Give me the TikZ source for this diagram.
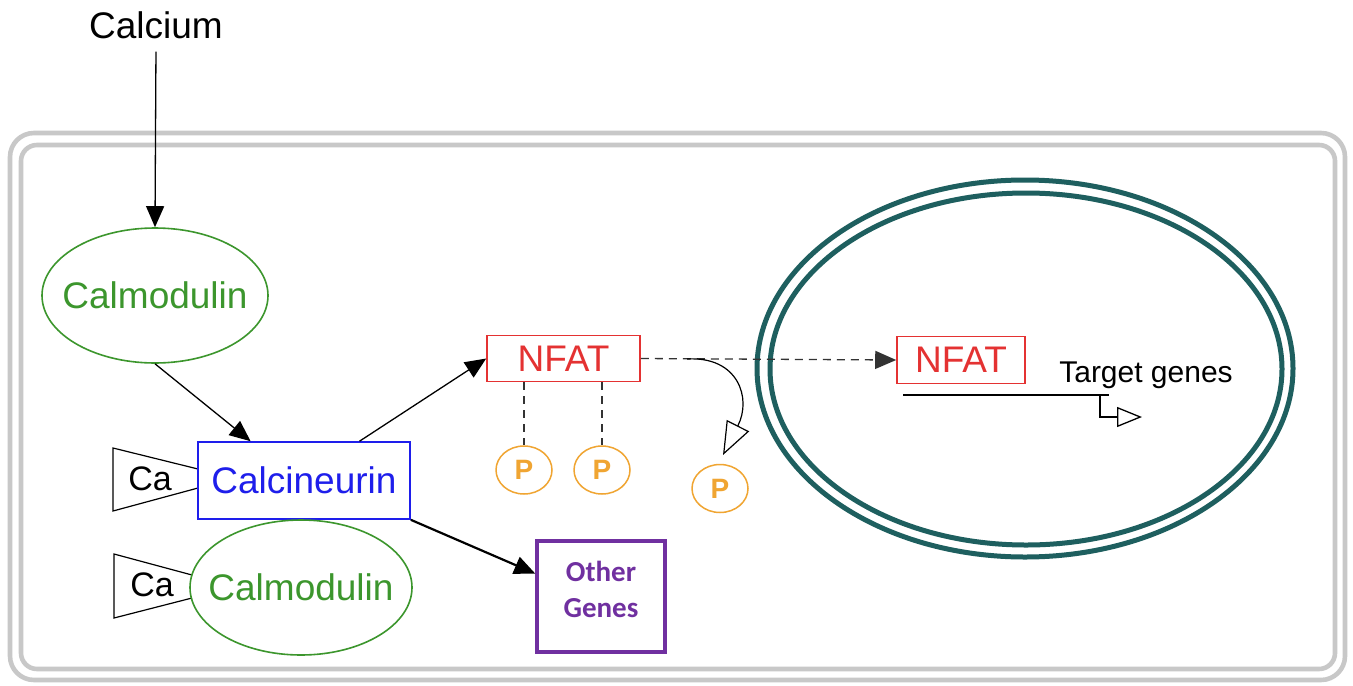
\documentclass[tikz,border=0pt]{standalone}
\usepackage{fontspec}
\setmainfont{Liberation Sans}
\newfontfamily\calibri{Carlito}
\usetikzlibrary{arrows.meta,shapes.geometric,calc}

\definecolor{camgreen}{RGB}{60,150,45}
\definecolor{cnblue}{RGB}{30,30,235}
\definecolor{nfred}{RGB}{228,50,50}
\definecolor{porange}{RGB}{240,165,50}
\definecolor{nucteal}{RGB}{30,95,95}
\definecolor{ogpurple}{RGB}{112,48,160}
\definecolor{cellgrey}{RGB}{200,200,200}

% text of zero width, so that an ellipse takes its size from its minimum width
\newcommand{\flatlabel}[1]{\makebox[0pt][c]{#1}}

\tikzset{
  lbl/.style={font=\fontsize{18.5}{22}\selectfont},
  cam/.style={ellipse, draw=camgreen, line width=0.8pt, text=camgreen, inner sep=0pt,
              minimum width=113pt, minimum height=67.5pt, lbl},
  cnbox/.style={rectangle, draw=cnblue, line width=0.8pt, text=cnblue, inner sep=0pt,
                minimum width=106pt, minimum height=38.5pt, lbl},
  nfbox/.style={rectangle, draw=nfred, line width=0.8pt, text=nfred, inner sep=0pt,
                minimum height=23pt, lbl},
  phos/.style={ellipse, draw=porange, line width=0.75pt, text=porange, inner sep=0pt,
               minimum width=28pt, minimum height=24pt,
               font=\fontsize{14}{16}\selectfont\bfseries},
  ogbox/.style={rectangle, draw=ogpurple, line width=1.7pt, inner sep=0pt,
                minimum width=64pt, minimum height=55.5pt},
  ogtext/.style={text=ogpurple, align=center,
                font=\calibri\bfseries\fontsize{14.5}{18}\selectfont},
  catrap/.style={draw=black, line width=0.6pt, fill=white},
  arr/.style={draw=black, line width=0.65pt, -{Triangle[length=10.5pt,width=9pt]}},
  dsh/.style={draw=black!80, line width=0.65pt, dash pattern=on 4pt off 3pt},
  cell/.style={draw=cellgrey, line width=2.3pt},
  nuc/.style={draw=nucteal, line width=2.5pt},
}

\begin{document}
\begin{tikzpicture}[x=0.5pt,y=-0.5pt]
\useasboundingbox (0,0) rectangle (1353,685);
\fill[white] (0,0) rectangle (1353,685);

% cell membrane (double rounded outline)
\draw[cell, rounded corners=12pt] (10,133) rectangle (1345,680);
\draw[cell, rounded corners=8pt] (21,145) rectangle (1335,669);

% nuclear envelope (double ellipse)
\draw[nuc] (1025,368.5) ellipse [x radius=134pt, y radius=94.25pt];
\draw[nuc] (1026,369) ellipse [x radius=128pt, y radius=88pt];

% calcium binding flags
\draw[catrap] (198,469) -- (113,448) -- (113,511) -- (198,488);
\node[lbl, font=\fontsize{17}{20}\selectfont] (ca1) at (150,479) {Ca};
\draw[catrap] (192,575) -- (114,554) -- (114,618) -- (192,598);
\node[lbl, font=\fontsize{17}{20}\selectfont] (ca2) at (152,585) {Ca};

% molecules
\node[lbl] (calcium) at (156,25) {Calcium};
\node[cam] (cam1) at (155,295.5) {\flatlabel{Calmodulin}};
\node[cnbox] (cn) at (304,480.5) {Calcineurin};
\node[cam, minimum width=111pt] (cam2) at (301,587.5) {\flatlabel{Calmodulin}};
\node[nfbox, minimum width=76.5pt] (nf) at (563.5,358.5) {NFAT};
\node[nfbox, minimum width=64pt, minimum height=23.5pt] (nf2) at (961,360) {NFAT};
\node[ogbox] (og) at (601,596.5) {};
\node[ogtext] (ogt) at (601,589) {Other\\Genes};

% phosphate groups
\node[phos] (p1) at (524,470) {P};
\node[phos] (p2) at (602,470) {P};
\node[phos] (p3) at (720,488.5) {P};

% signalling arrows
\draw[arr, shorten <=3pt] (calcium.south) -- (cam1.north);
\draw[arr] (cam1.south) -- ($(cn.north west)!0.25!(cn.north east)$);
\draw[arr] ($(cn.north west)!0.76!(cn.north east)$) -- (nf.west);
\draw[arr, line width=1.1pt] (cn.south east) -- ($(og.north west)!0.3!(og.south west)$);

% phosphorylation links
\draw[dsh] (p1.north |- nf.south) -- (p1.north);
\draw[dsh] (p2.north |- nf.south) -- (p2.north);

% nuclear import
\draw[dsh, -{Triangle[length=10.5pt,width=9pt]}] (nf.east) -- (nf2.west);

% dephosphorylation
\coordinate (dp0) at (687,359);
\coordinate (dp1) at (723,455);
\draw[line width=0.6pt, -{Triangle[open,length=16.5pt,width=12.5pt]}]
  (dp0) .. controls (738,356) and (752,398) .. (dp1);

% target gene with promoter arrow
\coordinate (g0) at (903,395);
\coordinate (g1) at (1109,395);
\coordinate (g2) at (1100,395);
\coordinate (g3) at (1100,417);
\coordinate (g4) at (1142,417);
\draw[line width=0.65pt] (g0) -- (g1);
\draw[line width=0.65pt, -{Triangle[open,length=12.5pt,width=10pt]}] (g2) -- (g3) -- (g4);
\node[font=\fontsize{15}{18}\selectfont] (tg) at (1146,375) {Target genes};
\end{tikzpicture}
\end{document}
